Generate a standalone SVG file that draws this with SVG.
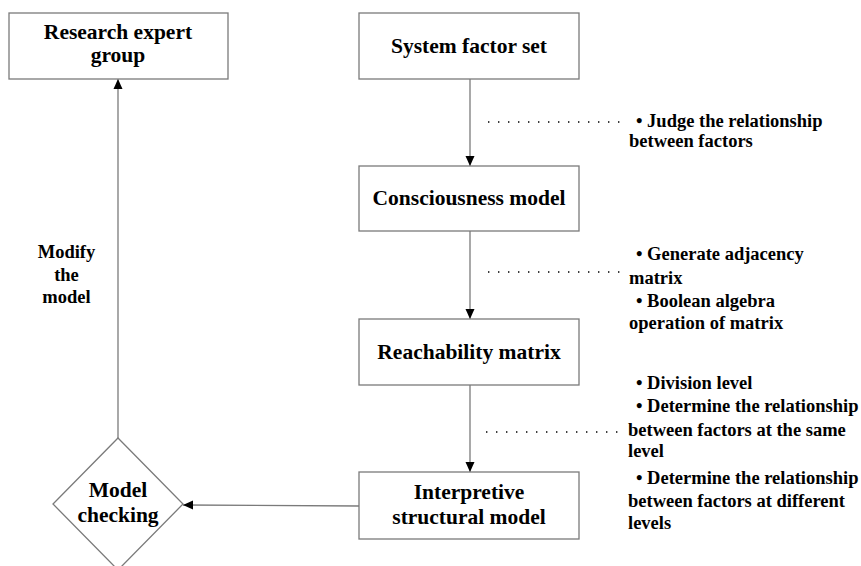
<svg xmlns="http://www.w3.org/2000/svg" width="861" height="566" viewBox="0 0 861 566">
<defs>
<marker id="ah" viewBox="0 0 10 10" refX="10" refY="5" markerWidth="10" markerHeight="10" markerUnits="userSpaceOnUse" orient="auto">
<path d="M0,0.5 L10,5 L0,9.5 z" fill="#000"/>
</marker>
</defs>
<style>
.box{fill:#fff;stroke:#7a7a7a;stroke-width:1.3}
.lbl{font-family:"Liberation Serif","Times New Roman",serif;font-weight:bold;font-size:21.5px;fill:#000;text-anchor:middle}
.ann{font-family:"Liberation Serif","Times New Roman",serif;font-weight:bold;font-size:18.5px;fill:#000}
.con{fill:none;stroke:#7a7a7a;stroke-width:1.3}
.dot{fill:none;stroke:#000;stroke-width:1.4;stroke-dasharray:1.4 8.6}
</style>
<rect width="861" height="566" fill="#fff"/>
<g id="connectors">
<line class="con" x1="470" y1="79" x2="470" y2="166" marker-end="url(#ah)"/>
<line class="con" x1="470" y1="231" x2="470" y2="319" marker-end="url(#ah)"/>
<line class="con" x1="470" y1="385" x2="470" y2="472" marker-end="url(#ah)"/>
<line class="con" x1="359" y1="506" x2="183" y2="505" marker-end="url(#ah)"/>
<line class="con" x1="118" y1="438" x2="118" y2="79" marker-end="url(#ah)"/>
<line class="dot" x1="488" y1="122" x2="622" y2="122"/>
<line class="dot" x1="488" y1="272" x2="622" y2="272"/>
<line class="dot" x1="486" y1="432" x2="622" y2="432"/>
</g>
<g id="research-expert-group">
<rect class="box" x="9" y="13" width="219" height="66"/>
<text class="lbl" x="118" y="39">Research expert</text>
<text class="lbl" x="118" y="62">group</text>
</g>
<g id="system-factor-set">
<rect class="box" x="359" y="13" width="220" height="66"/>
<text class="lbl" x="469" y="53">System factor set</text>
</g>
<g id="consciousness-model">
<rect class="box" x="359" y="166" width="220" height="65"/>
<text class="lbl" x="469" y="205">Consciousness model</text>
</g>
<g id="reachability-matrix">
<rect class="box" x="359" y="319" width="220" height="66"/>
<text class="lbl" x="469" y="359">Reachability matrix</text>
</g>
<g id="interpretive-structural-model">
<rect class="box" x="359" y="472" width="220" height="67"/>
<text class="lbl" x="469" y="499">Interpretive</text>
<text class="lbl" x="469" y="524">structural model</text>
</g>
<g id="model-checking">
<polygon class="box" points="118,438 183,504 118,570 53,504"/>
<text class="lbl" x="118" y="497">Model</text>
<text class="lbl" x="118" y="522">checking</text>
</g>
<g id="modify-label">
<text class="ann" text-anchor="middle" x="66.5" y="258">Modify</text>
<text class="ann" text-anchor="middle" x="66.5" y="281">the</text>
<text class="ann" text-anchor="middle" x="66.5" y="303">model</text>
</g>
<g id="annotation-1">
<text class="ann" x="636" y="127">• Judge the relationship</text>
<text class="ann" x="629" y="147">between factors</text>
</g>
<g id="annotation-2">
<text class="ann" x="636" y="260">• Generate adjacency</text>
<text class="ann" x="629" y="284">matrix</text>
<text class="ann" x="636" y="307">• Boolean algebra</text>
<text class="ann" x="629" y="329">operation of matrix</text>
</g>
<g id="annotation-3">
<text class="ann" x="636" y="389">• Division level</text>
<text class="ann" x="636" y="412">• Determine the relationship</text>
<text class="ann" x="628" y="436">between factors at the same</text>
<text class="ann" x="628" y="457">level</text>
<text class="ann" x="636" y="484">• Determine the relationship</text>
<text class="ann" x="628" y="507">between factors at different</text>
<text class="ann" x="628" y="529">levels</text>
</g>
</svg>
